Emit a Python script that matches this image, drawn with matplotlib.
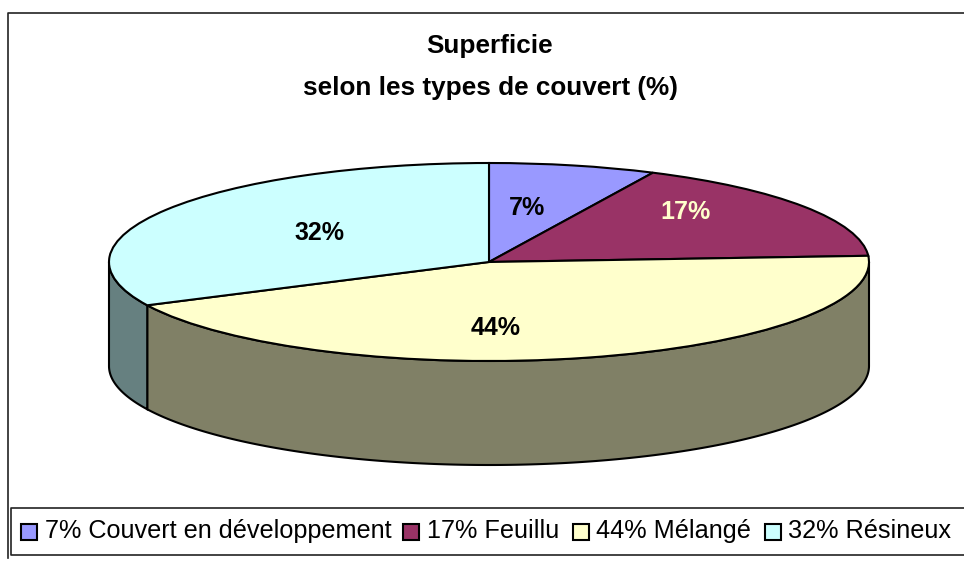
#!/usr/bin/env python3
"""
3D-looking pie of forest cover types
"""

import numpy as np
import matplotlib
matplotlib.use('Agg')
import matplotlib.pyplot as plt
from matplotlib.colors import to_rgb
from matplotlib.lines import Line2D
from matplotlib.patches import Rectangle

categories = ['Couvert en développement', 'Feuillu', 'Mélangé', 'Résineux']
shares = [7.1, 16.9, 43.8, 32.2]
colors = ['#9999FF', '#993366', '#FFFFCC', '#CCFFFF']
title_lines = ['Superficie', 'selon les types de couvert (%)']

W, H = 964, 561
CX, CY, RX, RY, DEPTH = 489, 262, 380, 99, 104
# label centres in pixels
label_pos = [(527, 208), (685, 212), (496, 328), (319, 233)]
label_col = ['black', '#FFFFCC', 'black', 'black']
# legend layout in pixels
key_x = [21, 403, 573, 765]
text_x = [45, 427, 596, 788]

plt.rcParams['font.family'] = ['Liberation Sans', 'DejaVu Sans']


def px(x, y):
    return x / W, 1 - y / H


def add_line(fig, xs, ys):
    pts = [px(x, y) for x, y in zip(xs, ys)]
    fig.add_artist(Line2D([p[0] for p in pts], [p[1] for p in pts], color='#222222',
                          linewidth=1.2, transform=fig.transFigure))


def draw_wall(ax):
    depth = DEPTH / RY
    edges = np.cumsum([0] + shares) / sum(shares) * 360
    for i, col in enumerate(colors):
        lo, hi = max(edges[i], 90), min(edges[i + 1], 270)
        if lo >= hi:
            continue
        t = np.radians(np.linspace(lo, hi, 200))
        x = np.sin(t)
        y = np.cos(t)
        ax.fill(np.r_[x, x[::-1]], np.r_[y, y[::-1] - depth],
                facecolor=np.array(to_rgb(col)) * 0.5, edgecolor='black',
                linewidth=1.5, zorder=1)


def draw_legend(fig):
    # frame is open on the right, it runs off the picture
    add_line(fig, [W, 11, 11, W], [508, 508, 555, 555])
    for i, col in enumerate(colors):
        x, y = px(key_x[i], 540)
        fig.add_artist(Rectangle((x, y), 16 / W, 16 / H, transform=fig.transFigure,
                                 facecolor=col, edgecolor='black', linewidth=1.5))
        x, y = px(text_x[i], 531)
        fig.text(x, y, f'{shares[i]:.0f}% {categories[i]}', ha='left', va='center',
                 fontsize=18.2)


def main():
    fig = plt.figure(figsize=(W / 100, H / 100), dpi=100)
    ax = fig.add_axes([0, 0, 1, 1])
    draw_wall(ax)
    wedges, _ = ax.pie(shares, colors=colors, startangle=90, counterclock=False,
                       wedgeprops={'edgecolor': 'black', 'linewidth': 1.5})
    for w in wedges:
        w.set_zorder(2)
    ax.set_aspect('auto')
    ax.set_xlim(-CX / RX, (W - CX) / RX)
    ax.set_ylim((CY - H) / RY, CY / RY)

    # outer frame, left and top only
    add_line(fig, [8, 8, W], [558, 13, 13])

    for i, line in enumerate(title_lines):
        x, y = px(490, 46 + 42 * i)
        fig.text(x, y, line, ha='center', va='center', fontsize=18.8, fontweight='bold')

    for s, pos, col in zip(shares, label_pos, label_col):
        x, y = px(*pos)
        fig.text(x, y, f'{s:.0f}%', ha='center', va='center', fontsize=18,
                 fontweight='bold', color=col, zorder=5)

    draw_legend(fig)
    fig.savefig('out.png', dpi=100)


if __name__ == '__main__':
    main()
